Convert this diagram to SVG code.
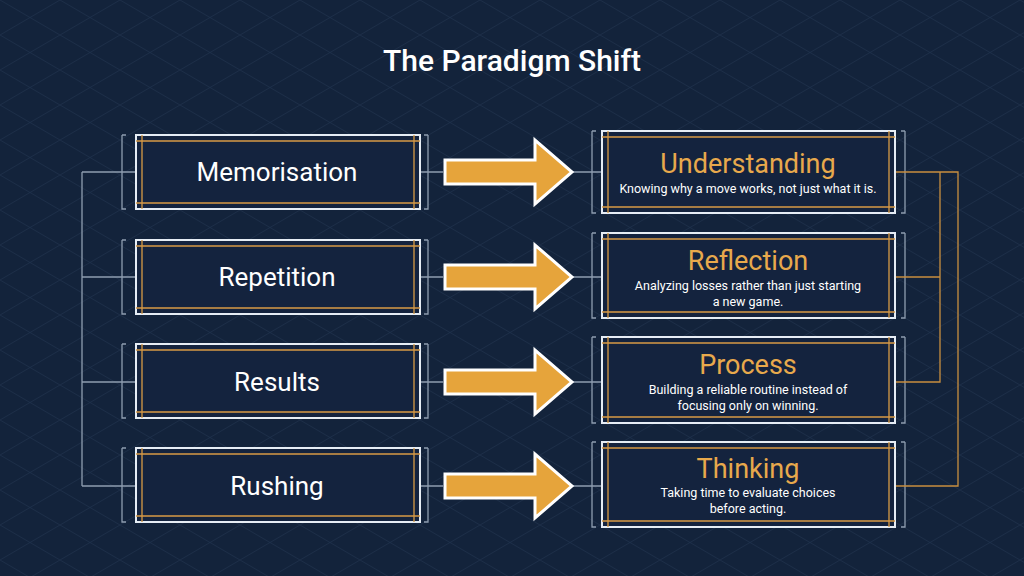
<svg xmlns="http://www.w3.org/2000/svg" width="1024" height="576" viewBox="0 0 1024 576">
<defs>
<style>
.t{font-family:Roboto,"Liberation Sans",sans-serif;text-anchor:middle}
.lb{fill:#fff;font-size:26px}
.rh{fill:#e8a94c;font-size:27px}
.rs{fill:#fff;font-size:12.5px}
.ow{fill:#14233e;stroke:#e6edf5;stroke-width:2}
.oi{fill:none;stroke:#d89a45;stroke-width:1.3}
.ln{fill:none;stroke:#8f9db0;stroke-width:1.3}
.rl{fill:none;stroke:#c98f3f;stroke-width:1.3}
.ar{fill:#e6a43b;stroke:#fff;stroke-width:3;stroke-linejoin:miter}
.gr{stroke:#2a3f5c;stroke-width:0.8}
</style>
<pattern id="g" width="60" height="35" patternUnits="userSpaceOnUse"><path class="gr" d="M0 0L60 35M60 0L0 35"/></pattern>
</defs>
<rect width="1024" height="576" fill="#13233b"/>
<rect width="1024" height="576" fill="url(#g)" opacity="0.5"/>
<text class="t" x="512" y="71" fill="#fff" font-size="30" font-weight="500">The Paradigm Shift</text>
<g id="connectors">
<path class="ln" d="M82 172V486M82 172H136M82 277H136M82 382H136M82 486H136M420 172H443M420 277H443M420 382H443M420 486H443M572 172H602M572 277H602M572 382H602M572 486H602"/>
<path class="ln" d="M122 135h4M122 135V209h4M122 240h4M122 240V314h4M122 344h4M122 344V418h4M122 448h4M122 448V522h4M428 135h-4M428 135V209h-4M428 240h-4M428 240V314h-4M428 344h-4M428 344V418h-4M428 448h-4M428 448V522h-4"/>
<path class="ln" d="M592 131h4M592 131V213h4M592 233h4M592 233V318h4M592 337h4M592 337V423h4M592 442h4M592 442V527h4M905 131h-4M905 131V213h-4M905 233h-4M905 233V318h-4M905 337h-4M905 337V423h-4M905 442h-4M905 442V527h-4"/>
<path class="rl" d="M895 172H958V486H895M895 277H940V382H895M940 172V277"/>
<g class="ar">
<path d="M445 160H535V140L572 172L535 204V184H445Z"/>
<path d="M445 265H535V245L572 277L535 309V289H445Z"/>
<path d="M445 370H535V350L572 382L535 414V394H445Z"/>
<path d="M445 474H535V454L572 486L535 518V498H445Z"/>
</g>
</g>
<g id="memorisation"><rect class="ow" x="136" y="135" width="284" height="74"/><path class="oi" d="M136 141H420M136 203H420M142 135V209M414 135V209"/><text class="t lb" x="277" y="181">Memorisation</text></g>
<g id="repetition"><rect class="ow" x="136" y="240" width="284" height="74"/><path class="oi" d="M136 246H420M136 308H420M142 240V314M414 240V314"/><text class="t lb" x="277" y="286">Repetition</text></g>
<g id="results"><rect class="ow" x="136" y="344" width="284" height="74"/><path class="oi" d="M136 350H420M136 412H420M142 344V418M414 344V418"/><text class="t lb" x="277" y="391">Results</text></g>
<g id="rushing"><rect class="ow" x="136" y="448" width="284" height="74"/><path class="oi" d="M136 454H420M136 516H420M142 448V522M414 448V522"/><text class="t lb" x="277" y="495">Rushing</text></g>
<g id="understanding"><rect class="ow" x="602" y="131" width="293" height="82"/><path class="oi" d="M602 137H895M602 207H895M608 131V213M889 131V213"/><text class="t rh" x="748" y="173">Understanding</text><text class="t rs" x="748" y="193">Knowing why a move works, not just what it is.</text></g>
<g id="reflection"><rect class="ow" x="602" y="233" width="293" height="85"/><path class="oi" d="M602 239H895M602 312H895M608 233V318M889 233V318"/><text class="t rh" x="748" y="270">Reflection</text><text class="t rs" x="748" y="290">Analyzing losses rather than just starting</text><text class="t rs" x="748" y="306">a new game.</text></g>
<g id="process"><rect class="ow" x="602" y="337" width="293" height="86"/><path class="oi" d="M602 343H895M602 417H895M608 337V423M889 337V423"/><text class="t rh" x="748" y="374">Process</text><text class="t rs" x="748" y="394">Building a reliable routine instead of</text><text class="t rs" x="748" y="410">focusing only on winning.</text></g>
<g id="thinking"><rect class="ow" x="602" y="442" width="293" height="85"/><path class="oi" d="M602 448H895M602 521H895M608 442V527M889 442V527"/><text class="t rh" x="748" y="478">Thinking</text><text class="t rs" x="748" y="497">Taking time to evaluate choices</text><text class="t rs" x="748" y="513">before acting.</text></g>
</svg>
